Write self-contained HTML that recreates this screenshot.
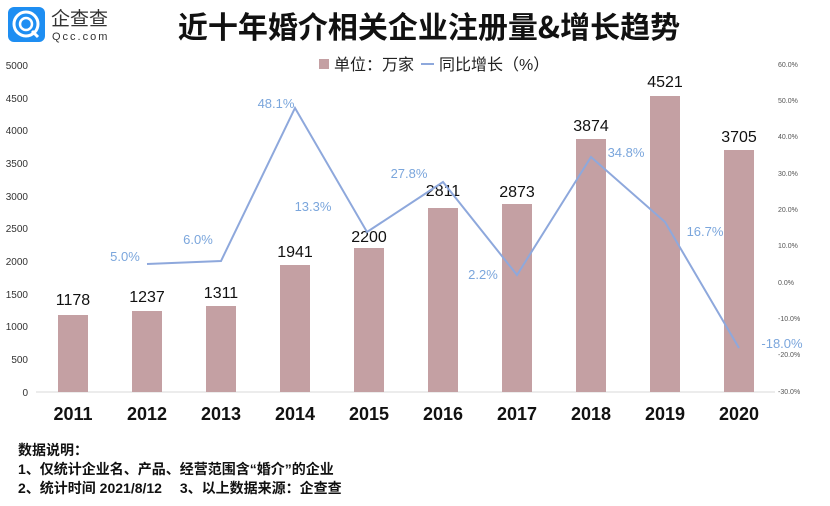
<!DOCTYPE html>
<html><head><meta charset="utf-8"><style>
html,body{margin:0;padding:0;background:#fff;}
svg{display:block;font-family:"Liberation Sans","Noto Sans CJK SC",sans-serif;}
</style></head><body>
<svg width="830" height="506" viewBox="0 0 830 506" xmlns="http://www.w3.org/2000/svg">
<rect width="830" height="506" fill="#fff"/>
<!-- logo -->
<rect x="8" y="7" width="37" height="35" rx="6" fill="#1e8ef2"/>
<circle cx="26" cy="24" r="12" fill="none" stroke="#fff" stroke-width="3"/>
<circle cx="26" cy="24" r="6" fill="none" stroke="#fff" stroke-width="2.5"/>
<line x1="32" y1="31" x2="38" y2="37" stroke="#fff" stroke-width="3"/>
<text x="51" y="25" font-size="19" fill="#333">企查查</text>
<text x="52" y="40" font-size="11" fill="#333" letter-spacing="2">Qcc.com</text>
<!-- title -->
<text x="429" y="38" font-size="30" font-weight="bold" text-anchor="middle" fill="#111" font-family="'Noto Sans CJK SC',sans-serif">近十年婚介相关企业注册量&amp;增长趋势</text>
<!-- legend -->
<rect x="319" y="59" width="10" height="10" fill="#c4a0a3"/>
<text x="334" y="70" font-size="16" fill="#222">单位：万家</text>
<line x1="421" y1="64" x2="434" y2="64" stroke="#8ea8dc" stroke-width="2"/>
<text x="439" y="70" font-size="16" fill="#222">同比增长（%）</text>
<!-- left axis -->
<g font-size="10" fill="#333" text-anchor="end">
<text x="28" y="69">5000</text><text x="28" y="102">4500</text><text x="28" y="134">4000</text>
<text x="28" y="167">3500</text><text x="28" y="200">3000</text><text x="28" y="232">2500</text>
<text x="28" y="265">2000</text><text x="28" y="298">1500</text><text x="28" y="330">1000</text>
<text x="28" y="363">500</text><text x="28" y="396">0</text>
</g>
<!-- right axis -->
<g font-size="7" fill="#555" text-anchor="start">
<text x="778" y="67">60.0%</text><text x="778" y="103">50.0%</text><text x="778" y="139">40.0%</text>
<text x="778" y="176">30.0%</text><text x="778" y="212">20.0%</text><text x="778" y="248">10.0%</text>
<text x="778" y="285">0.0%</text><text x="778" y="321">-10.0%</text><text x="778" y="357">-20.0%</text>
<text x="778" y="394">-30.0%</text>
</g>
<line x1="36" y1="392" x2="775" y2="392" stroke="#d9d9d9" stroke-width="1"/>
<!-- bars -->
<g fill="#c4a0a3">
<rect x="58" y="315" width="30" height="77"/>
<rect x="132" y="311" width="30" height="81"/>
<rect x="206" y="306" width="30" height="86"/>
<rect x="280" y="265" width="30" height="127"/>
<rect x="354" y="248" width="30" height="144"/>
<rect x="428" y="208" width="30" height="184"/>
<rect x="502" y="204" width="30" height="188"/>
<rect x="576" y="139" width="30" height="253"/>
<rect x="650" y="96" width="30" height="296"/>
<rect x="724" y="150" width="30" height="242"/>
</g>
<g font-size="16" fill="#111" text-anchor="middle">
<text x="73" y="305">1178</text><text x="147" y="302">1237</text><text x="221" y="298">1311</text>
<text x="295" y="257">1941</text><text x="369" y="242">2200</text><text x="443" y="196">2811</text>
<text x="517" y="197">2873</text><text x="591" y="131">3874</text><text x="665" y="87">4521</text>
<text x="739" y="142">3705</text>
</g>
<!-- line -->
<polyline points="147,264 221,261 295,108 367,232 443,182 517,275 591,157 665,222 739,348" fill="none" stroke="#8ea8dc" stroke-width="2"/>
<g font-size="13" fill="#7ba6dc" text-anchor="middle">
<text x="125" y="261">5.0%</text><text x="198" y="244">6.0%</text><text x="276" y="108">48.1%</text>
<text x="313" y="211">13.3%</text><text x="409" y="178">27.8%</text><text x="483" y="279">2.2%</text>
<text x="626" y="157">34.8%</text><text x="705" y="236">16.7%</text><text x="782" y="348">-18.0%</text>
</g>
<!-- x labels -->
<g font-size="18" font-weight="bold" fill="#111" text-anchor="middle">
<text x="73" y="420">2011</text><text x="147" y="420">2012</text><text x="221" y="420">2013</text>
<text x="295" y="420">2014</text><text x="369" y="420">2015</text><text x="443" y="420">2016</text>
<text x="517" y="420">2017</text><text x="591" y="420">2018</text><text x="665" y="420">2019</text>
<text x="739" y="420">2020</text>
</g>
<!-- notes -->
<g font-size="14" fill="#111" font-weight="bold">
<text x="18" y="455">数据说明：</text>
<text x="18" y="474">1、仅统计企业名、产品、经营范围含“婚介”的企业</text>
<text x="18" y="493">2、统计时间 2021/8/12　 3、以上数据来源：企查查</text>
</g>
</svg>
</body></html>
